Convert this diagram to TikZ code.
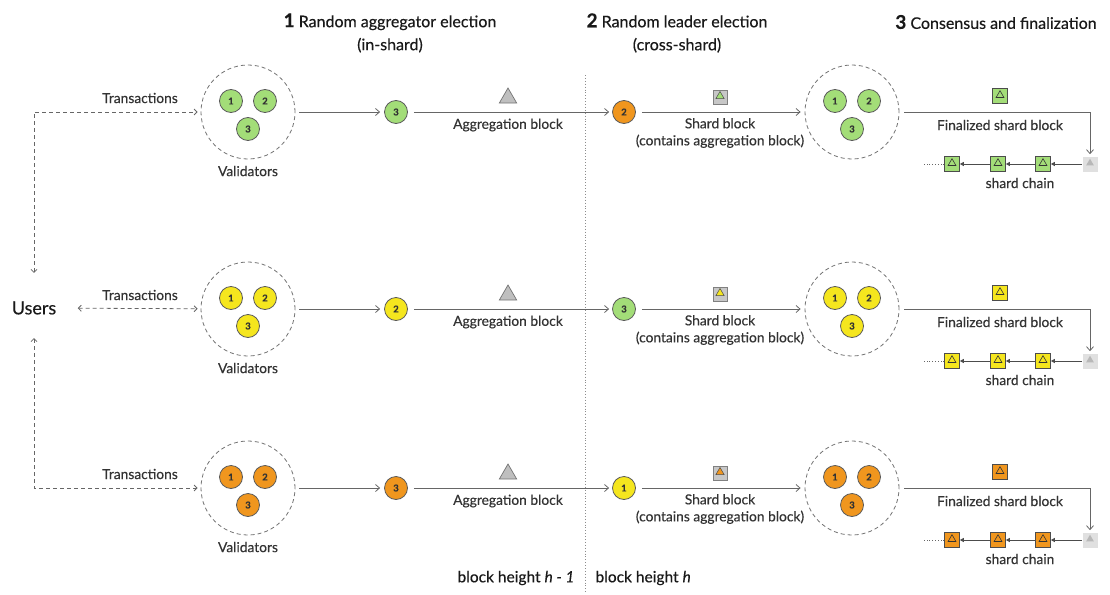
\documentclass[tikz,border=0pt]{standalone}
\usepackage{fontspec}
\setmainfont{Lato}[FakeBold=0.35]
\usetikzlibrary{arrows.meta,shapes.geometric,positioning}

\definecolor{vgreen}{HTML}{A3DD78}
\definecolor{vyellow}{HTML}{F5E61E}
\definecolor{vorange}{HTML}{F0961E}
\definecolor{rim}{HTML}{5A5A5A}

\begin{document}
\begin{tikzpicture}[x=1pt, y=-1pt,
    every node/.style={text=black!80, font=\fontsize{13.8}{17}\selectfont},
    vnode/.style={circle, draw=rim, line width=0.8pt, fill=#1, minimum size=23pt, inner sep=0pt, font=\bfseries\fontsize{9.5}{9.5}\selectfont},
    group/.style={circle, draw=black!55, dash pattern=on 4pt off 3pt, line width=0.8pt, minimum size=94pt, inner sep=0pt},
    flow/.style={draw=black!60, line width=0.8pt, -{Straight Barb[length=4pt,width=7pt]}},
    tx/.style={draw=black!60, line width=0.8pt, dash pattern=on 4pt off 3pt, {Straight Barb[length=3pt,width=6pt]}-{Straight Barb[length=3pt,width=6pt]}},
    link/.style={draw=black!70, line width=0.8pt, -{Triangle[length=4pt,width=4pt]}},
    tri/.style={regular polygon, regular polygon sides=3, inner sep=0pt, minimum size=#1},
    blk/.style={rectangle, draw=black!70, line width=0.6pt, fill=#1, minimum size=15pt, inner sep=0pt},
    head/.style={align=center, text=black!90, font=\fontsize{16}{23}\selectfont},
  ]
  \useasboundingbox (0,0) rectangle (1110,594);

  % step headers
  \node[head] (step1) at (390,33) {{\fontsize{19}{19}\selectfont\bfseries 1} Random aggregator election\\(in-shard)};
  \node[head] (step2) at (677,33) {{\fontsize{19}{19}\selectfont\bfseries 2} Random leader election\\(cross-shard)};
  \node[head] (step3) at (996,22) {{\fontsize{19}{19}\selectfont\bfseries 3} Consensus and finalization};

  % block height divider
  \draw[black!45, dotted, line width=0.9pt] (585,75) -- (585,592);
  \node[anchor=east, text=black!90, font=\fontsize{15.5}{17}\selectfont] (hprev) at (578,578) {block height \textit{h - 1}};
  \node[anchor=west, text=black!90, font=\fontsize{15.5}{17}\selectfont] (hcur) at (592,578) {block height \textit{h}};

  \node[font=\fontsize{18}{20}\selectfont, text=black!90] (users) at (34,308) {Users};

  \foreach \row/\yy/\vc/\an/\lc/\ln in {1/112/vgreen/3/vorange/2, 2/309/vyellow/2/vgreen/3, 3/488/vorange/3/vyellow/1} {
    % validators of the shard
    \node[group] (val\row) at (248,\yy) {};
    \node[vnode=\vc] (va\row) at (231,\yy-11) {1};
    \node[vnode=\vc] (vb\row) at (265,\yy-11) {2};
    \node[vnode=\vc] (vc\row) at (248,\yy+17) {3};
    \node[below=3pt of val\row] (vl\row) {Validators};
    \node (tl\row) at (140,\yy-14) {Transactions};

    % aggregator and leader
    \node[vnode=\vc] (agg\row) at (396,\yy) {\an};
    \node[vnode=\lc] (lead\row) at (624,\yy) {\ln};
    \node[tri=20pt, fill=black!25, draw=black!55, line width=0.7pt] (ab\row) at (508,\yy-14) {};
    \node (abl\row) at (508,\yy+13) {Aggregation block};
    \node[blk=black!22, draw=black!50, minimum size=14pt] (sb\row) at (720,\yy-15) {};
    \node[tri=9.5pt, fill=\vc, draw=black!70, line width=0.5pt, yshift=0.8pt] (sbt\row) at (sb\row) {};
    \node[align=center] (sbl\row) at (720,\yy+21) {Shard block\\(contains aggregation block)};

    % consensus
    \node[group] (cons\row) at (852,\yy) {};
    \node[vnode=\vc] (ca\row) at (835,\yy-11) {1};
    \node[vnode=\vc] (cb\row) at (869,\yy-11) {2};
    \node[vnode=\vc] (cc\row) at (852,\yy+17) {3};

    % finalized block and shard chain
    \node[blk=\vc] (fb\row) at (1000,\yy-16) {};
    \node[tri=9pt, draw=black!80, line width=0.6pt, yshift=0.8pt] (fbt\row) at (fb\row) {};
    \node (fbl\row) at (1000,\yy+13) {Finalized shard block};
    \foreach \cx/\cn in {952/a, 998/b, 1043/c} {
      \node[blk=\vc] (ch\row\cn) at (\cx,\yy+52) {};
      \node[tri=9pt, draw=black!80, line width=0.6pt, yshift=0.8pt] (ct\row\cn) at (ch\row\cn) {};
    }
    \node[blk=black!12, draw=none] (new\row) at (1090,\yy+52) {};
    \node[tri=9pt, fill=black!28, yshift=0.8pt] (nt\row) at (new\row) {};
    \coordinate (tail\row) at (924,\yy+52);
    \node (scl\row) at (1020,\yy+71) {shard chain};

    \draw[flow, shorten <=4pt, shorten >=4pt] (val\row) -- (agg\row);
    \draw[flow, shorten <=6pt, shorten >=3pt] (agg\row) -- (lead\row);
    \draw[flow, shorten <=6pt, shorten >=4pt] (lead\row) -- (cons\row);
    \draw[flow, shorten <=5pt, shorten >=2pt] (cons\row) -| (new\row);
    \draw[link] (new\row) -- (ch\row c);
    \draw[link] (ch\row c) -- (ch\row b);
    \draw[link] (ch\row b) -- (ch\row a);
    \draw[black!60, line width=0.8pt, dotted] (ch\row a) -- (tail\row);
  }

  % transactions from users
  \draw[tx, shorten <=25pt, shorten >=3pt] (users.north) |- (val1);
  \draw[tx, shorten <=18pt, shorten >=3pt] (users) -- (val2);
  \draw[tx, shorten <=20pt, shorten >=3pt] (users.south) |- (val3);
\end{tikzpicture}
\end{document}
